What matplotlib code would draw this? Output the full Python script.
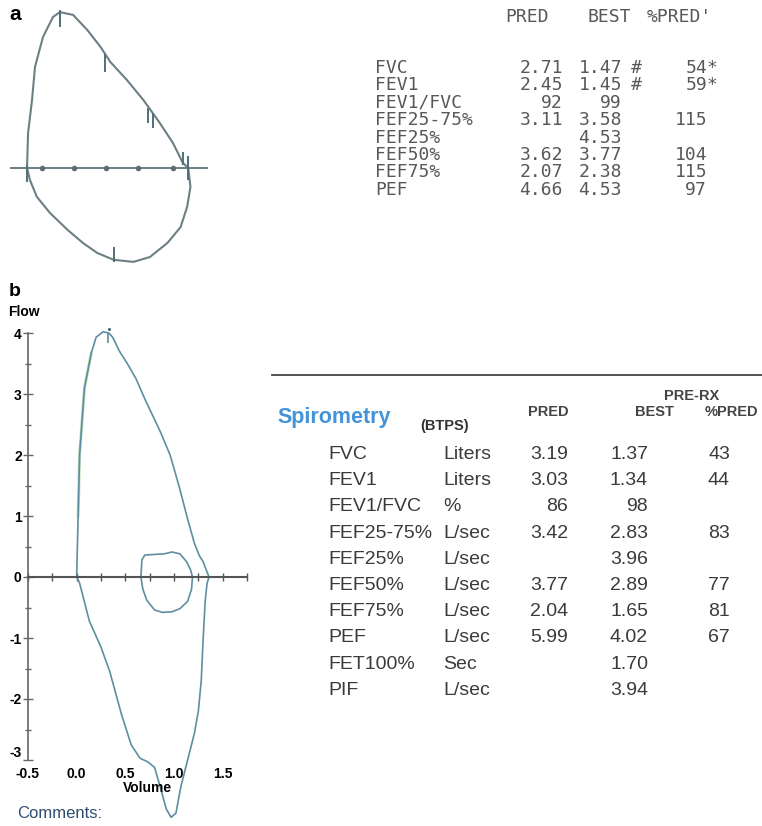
import numpy as np
import matplotlib
matplotlib.use("Agg")
import matplotlib.pyplot as plt
from matplotlib.lines import Line2D

plt.rcParams['axes.unicode_minus'] = False
plt.rcParams['font.family'] = ['Liberation Sans', 'DejaVu Sans']

W, H = 762, 826

# ---- panel a: printed flow-volume loop ----
a_exp_vol = [0, 0.01, 0.046, 0.073, 0.146, 0.237, 0.30, 0.42, 0.55, 0.67, 0.76, 0.91, 1.06, 1.21, 1.33, 1.42, 1.47]
a_exp_flow = [0, 1.02, 1.98, 2.94, 3.81, 4.39, 4.53, 4.45, 4.01, 3.52, 3.08, 2.56, 1.98, 1.31, 0.73, 0.15, 0]
a_insp_vol = [0, 0.027, 0.09, 0.21, 0.37, 0.51, 0.64, 0.79, 0.97, 1.12, 1.28, 1.40, 1.46, 1.49, 1.47]
a_insp_flow = [0, -0.35, -0.84, -1.31, -1.80, -2.18, -2.47, -2.67, -2.73, -2.59, -2.18, -1.72, -1.13, -0.55, 0]
a_dot_vol = [0.137, 0.43, 0.72, 1.01, 1.33]
# effort markers on the trace: volume, low flow, high flow
a_mark_vol = [0.0, 0.30, 0.71, 1.10, 1.15, 1.42, 1.47, 0.79]
a_mark_lo = [-0.4, 4.1, 2.8, 1.3, 1.15, 0.1, -0.35, -2.72]
a_mark_hi = [0.1, 4.6, 3.3, 1.75, 1.6, 0.45, 0.35, -2.3]

a_params = ['FVC', 'FEV1', 'FEV1/FVC', 'FEF25-75%', 'FEF25%', 'FEF50%', 'FEF75%', 'PEF']
a_pred = ['2.71', '2.45', '92', '3.11', '', '3.62', '2.07', '4.66']
a_best = ['1.47', '1.45', '99', '3.58', '4.53', '3.77', '2.38', '4.53']
a_flag = ['#', '#', '', '', '', '', '', '']
a_pct = ['54', '59', '', '115', '', '104', '115', '97']
a_star = ['*', '*', '', '', '', '', '', '']

# ---- panel b: flow-volume loop with tidal loop ----
b_exp_vol = [0.0, 0.015, 0.03, 0.08, 0.15, 0.20, 0.27, 0.33, 0.37, 0.44, 0.52, 0.61, 0.70, 0.78,
             0.86, 0.96, 1.05, 1.14, 1.21, 1.26, 1.30, 1.33, 1.36]
b_exp_flow = [0.0, 1.0, 2.0, 3.1, 3.67, 3.93, 4.02, 4.0, 3.93, 3.70, 3.50, 3.25, 2.92, 2.65,
              2.38, 2.00, 1.50, 0.95, 0.55, 0.35, 0.25, 0.12, 0.0]
b_insp_vol = [0.0, 0.03, 0.13, 0.25, 0.34, 0.46, 0.56, 0.65, 0.73, 0.80, 0.86, 0.92, 0.97, 1.02,
              1.07, 1.14, 1.21, 1.25, 1.28, 1.30, 1.32, 1.34, 1.36]
b_insp_flow = [0.0, -0.1, -0.72, -1.15, -1.55, -2.25, -2.75, -2.97, -3.03, -3.12, -3.45, -3.8, -3.94, -3.87,
               -3.44, -3.0, -2.56, -2.2, -1.7, -1.0, -0.4, -0.1, 0.0]
b_tidal_vol = [0.66, 0.67, 0.70, 0.80, 0.90, 0.98, 1.06, 1.13, 1.17, 1.19, 1.18, 1.14, 1.06, 0.98,
               0.88, 0.80, 0.72, 0.68, 0.66]
b_tidal_flow = [0.0, 0.28, 0.36, 0.37, 0.38, 0.41, 0.38, 0.25, 0.12, 0.0, -0.2, -0.4, -0.52, -0.57,
                -0.58, -0.54, -0.38, -0.2, 0.0]

b_params = ['FVC', 'FEV1', 'FEV1/FVC', 'FEF25-75%', 'FEF25%', 'FEF50%', 'FEF75%', 'PEF', 'FET100%', 'PIF']
b_units = ['Liters', 'Liters', '%', 'L/sec', 'L/sec', 'L/sec', 'L/sec', 'L/sec', 'Sec', 'L/sec']
b_pred = ['3.19', '3.03', '86', '3.42', '', '3.77', '2.04', '5.99', '', '']
b_best = ['1.37', '1.34', '98', '2.83', '3.96', '2.89', '1.65', '4.02', '1.70', '3.94']
b_pct = ['43', '44', '', '83', '', '77', '81', '67', '', '']

fig = plt.figure(figsize=(W / 100, H / 100), dpi=100)


def put(x, y, s, **kw):
    fig.text(x / W, 1 - y / H, s, **kw)


def box(x0, y0, x1, y1):
    return [x0 / W, 1 - y1 / H, (x1 - x0) / W, (y1 - y0) / H]


# panel a plot
trace_a = '#6d7f84'
ax_a = fig.add_axes(box(10, 8, 208, 266))
ax_a.set_xlim(-0.155, 1.65)
ax_a.set_ylim(-2.85, 4.65)
ax_a.axis('off')
ax_a.axhline(0, color=trace_a, lw=1.4)
ax_a.plot(a_dot_vol, np.zeros(len(a_dot_vol)), 'o', ms=3, color='#5f6f73')
ax_a.plot(a_exp_vol, a_exp_flow, color=trace_a, lw=1.5)
ax_a.plot(a_insp_vol, a_insp_flow, color=trace_a, lw=1.5)
ax_a.vlines(a_mark_vol, a_mark_lo, a_mark_hi, color='#4f7078', lw=1.4)

put(15, 14, 'a', fontsize=15, fontweight='bold', ha='center', va='center')
put(15, 291, 'b', fontsize=14, fontweight='bold', ha='center', va='center')

# panel a printout table
mono = dict(family='DejaVu Sans Mono', fontsize=13, color='#585858', va='baseline')
put(527, 22, 'PRED', ha='center', **mono)
put(609, 22, 'BEST', ha='center', **mono)
put(679, 22, "%PRED'", ha='center', **mono)
for i, name in enumerate(a_params):
    yb = 73 + i * 17.4
    put(375, yb, name, ha='left', **mono)
    put(563, yb, a_pred[i], ha='right', **mono)
    put(622, yb, a_best[i], ha='right', **mono)
    put(631, yb, a_flag[i], ha='left', **mono)
    put(707, yb, a_pct[i], ha='right', **mono)
    put(707, yb, a_star[i], ha='left', **mono)

# panel b plot
trace_b = '#5e8ea0'
ax_b = fig.add_axes(box(28, 333, 247, 760))
ax_b.set_xlim(-0.5, 1.75)
ax_b.set_ylim(-3, 4)
for side in ['top', 'right']:
    ax_b.spines[side].set_visible(False)
ax_b.spines['left'].set_color('#666666')
ax_b.spines['left'].set_linewidth(1.2)
ax_b.spines['bottom'].set_position(('data', 0))
ax_b.spines['bottom'].set_color('#555555')
ax_b.spines['bottom'].set_linewidth(1.5)
ax_b.set_xticks(np.arange(-0.5, 1.76, 0.25))
ax_b.tick_params(axis='x', direction='inout', length=6, width=1, color='#555555', labelbottom=False)
ax_b.set_yticks(range(-3, 5))
ax_b.set_yticks(np.arange(-2.5, 4, 1.0), minor=True)
ax_b.tick_params(axis='y', which='major', direction='inout', length=7, width=1, color='#666666', pad=1,
                 labelsize=10)
ax_b.tick_params(axis='y', which='minor', direction='inout', length=5, width=1, color='#666666')
for lab in ax_b.get_yticklabels():
    lab.set_fontweight('bold')
# the lowest flow label sits a little above its tick
ax_b.get_yticklabels()[0].set_verticalalignment('bottom')

sec = ax_b.secondary_xaxis(0.0)
sec.set_xticks([-0.5, 0.0, 0.5, 1.0, 1.5])
sec.set_xticklabels(['-0.5', '0.0', '0.5', '1.0', '1.5'], fontweight='bold', fontsize=10)
sec.tick_params(length=0, pad=5)
sec.spines['bottom'].set_visible(False)

ax_b.plot(b_exp_vol[1:5], b_exp_flow[1:5], color='#a9d4a0', lw=2.2, alpha=0.7, clip_on=False)
ax_b.plot(b_exp_vol, b_exp_flow, color=trace_b, lw=1.2, clip_on=False)
ax_b.plot(b_insp_vol, b_insp_flow, color=trace_b, lw=1.2, clip_on=False)
ax_b.plot(b_tidal_vol, b_tidal_flow, color=trace_b, lw=1.2, clip_on=False)
ax_b.vlines([0.32], [3.83], [4.0], color=trace_b, lw=1.2)
ax_b.plot([0.33], [4.07], '.', ms=2.5, color='#4a6f7c', clip_on=False)

put(24, 312, 'Flow', fontsize=10, fontweight='bold', ha='center', va='center')
put(147, 788, 'Volume', fontsize=10, fontweight='bold', ha='center', va='center')
put(17, 813, 'Comments:', fontsize=12, color='#2f4d6e', ha='left', va='center')

# panel b results table
fig.add_artist(Line2D([272 / W, 1.0], [1 - 375 / H, 1 - 375 / H], color='#444444', lw=1.3))
hdr = dict(fontsize=10.5, fontweight='bold', color='#444444', va='center')
put(692, 396, 'PRE-RX', ha='center', **hdr)
put(548, 412, 'PRED', ha='center', **hdr)
put(654, 412, 'BEST', ha='center', **hdr)
put(731, 412, '%PRED', ha='center', **hdr)
put(277, 418, 'Spirometry', fontsize=15.5, fontweight='bold', color='#4393d8', ha='left', va='center')
put(420, 426, '(BTPS)', fontsize=10.5, fontweight='bold', color='#333333', ha='left', va='center')

body = dict(fontsize=14, color='#3a3a3a', va='baseline')
for i, name in enumerate(b_params):
    yb = 459 + i * 26.2
    put(328, yb, name, ha='left', **body)
    put(443, yb, b_units[i], ha='left', **body)
    put(568, yb, b_pred[i], ha='right', **body)
    put(648, yb, b_best[i], ha='right', **body)
    put(730, yb, b_pct[i], ha='right', **body)

fig.savefig('out.png', dpi=100)
